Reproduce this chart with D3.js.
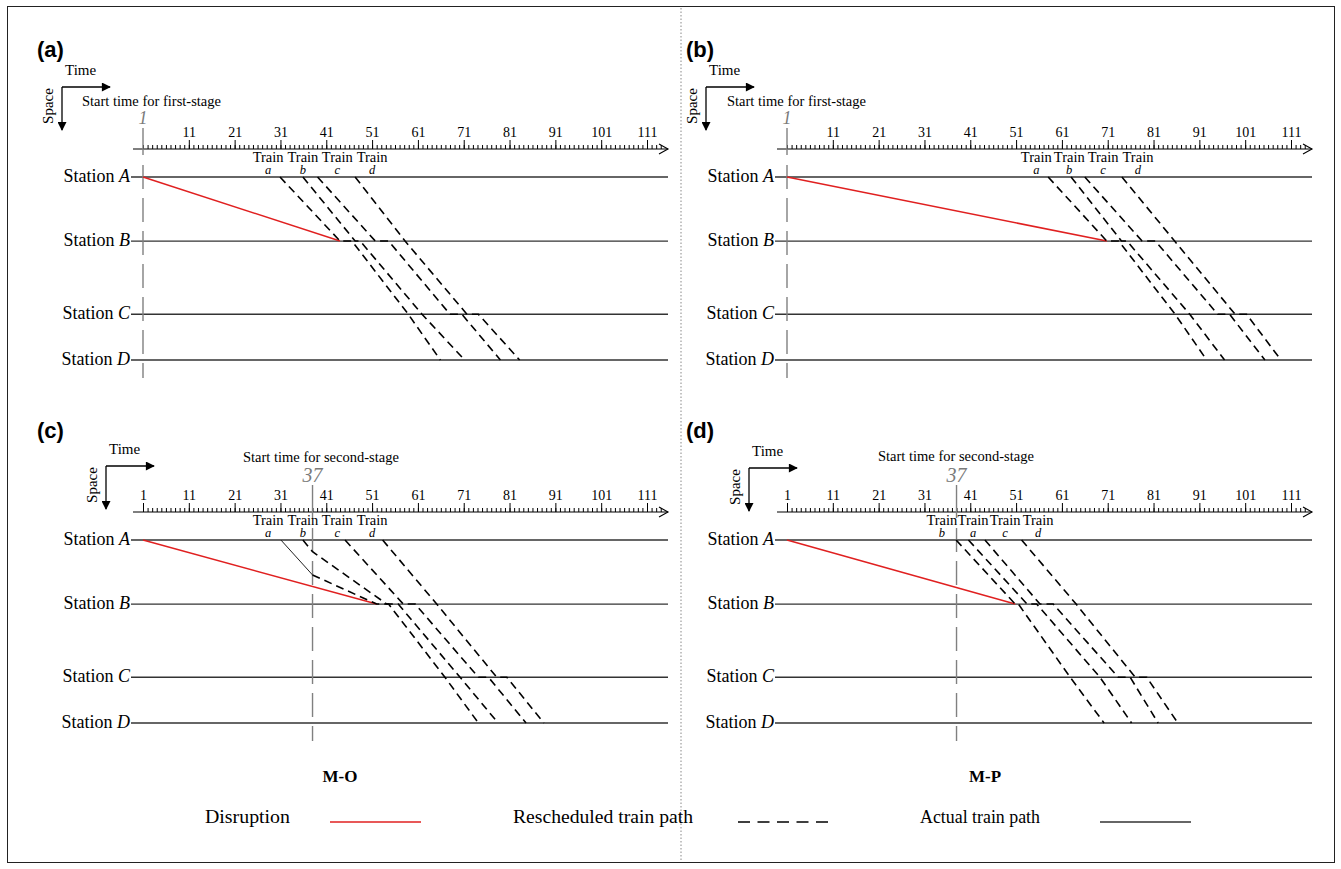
<!DOCTYPE html>
<html>
<head>
<meta charset="utf-8">
<title>Train rescheduling</title>
<script src="https://d3js.org/d3.v7.min.js"></script>
<style>
  * { margin: 0; padding: 0; }
  body { background: #fff; }
  svg { display: block; }
</style>
</head>
<body>
<script>
// ---- data ----
const stationNames = ["A", "B", "C", "D"];
const stationKm = [0, 35, 75, 100];
const majorTicks = [1, 11, 21, 31, 41, 51, 61, 71, 81, 91, 101, 111];
const minorTicks = d3.range(1, 115);

const stageLabels = ["1", "1", "37", "37"];
const stageTimes = [1, 1, 38, 38];          // where the stage line sits on the time axis
const disruptionAtB = [44.0, 70.8, 52.0, 50.8];

const trainOrderTop = ["a", "b", "c", "d"];
const trainOrderD = ["b", "a", "c", "d"];
const labelTimesA = [28.3, 35.9, 43.4, 51.0];
const labelTimesB = [55.4, 62.6, 70.0, 77.6];
const labelTimesC = [28.3, 35.9, 43.4, 51.0];
const labelTimesD = [34.8, 41.6, 48.6, 55.8];

// [time, km] points of each rescheduled path
const reschedA = [
  [[30.9, 0], [44.0, 35], [46.6, 35], [58.9, 75], [65.9, 100]],
  [[35.9, 0], [47.3, 35], [48.4, 35], [61.9, 75], [71.2, 100]],
  [[39.1, 0], [51.7, 35], [54.6, 35], [68.0, 75], [70.6, 75], [79.0, 100]],
  [[47.3, 0], [58.2, 35], [71.7, 75], [74.2, 75], [83.2, 100]]
];
const reschedB = [
  [[58.0, 0], [70.8, 35], [73.4, 35], [85.7, 75], [92.6, 100]],
  [[63.0, 0], [74.0, 35], [75.2, 35], [88.9, 75], [96.5, 100]],
  [[66.0, 0], [78.5, 35], [81.4, 35], [95.0, 75], [97.6, 75], [105.3, 100]],
  [[74.1, 0], [85.6, 35], [98.8, 75], [101.3, 75], [108.8, 100]]
];
const reschedC = [
  [[38.0, 19.1], [52.0, 35], [54.6, 35], [66.9, 75], [74.2, 100]],
  [[35.9, 0], [38.0, 6.4], [54.2, 35], [56.7, 35], [70.2, 75], [78.5, 100]],
  [[45.1, 0], [57.8, 35], [60.4, 35], [74.2, 75], [76.4, 75], [84.6, 100]],
  [[53.3, 0], [65.1, 35], [78.2, 75], [80.4, 75], [88.5, 100]]
];
const reschedD = [
  [[37.9, 0], [50.8, 35], [51.5, 35], [62.8, 75], [70.2, 100]],
  [[40.6, 0], [53.4, 35], [55.5, 35], [69.3, 75], [76.2, 100]],
  [[44.2, 0], [56.2, 35], [59.1, 35], [73.3, 75], [75.9, 75], [82.0, 100]],
  [[52.2, 0], [64.1, 35], [77.0, 75], [79.5, 75], [86.3, 100]]
];
const actualC = [
  [[31.1, 0], [38.0, 19.1]]
];
const actualNone = [];

const legendNames = ["Disruption", "Rescheduled train path", "Actual train path"];

// ---- layout ----
const serif = "'Liberation Serif', 'Times New Roman', serif";
const W = 1341, H = 869;

const panels = [
  { tag: "(a)", tx: 37, ty: 57, ox: 143, ay: 149, glyph: [62, 87], startText: "Start time for first-stage", st: [82, 106],
    sIdx: 0, order: trainOrderTop, labels: labelTimesA, resched: reschedA, actual: actualNone },
  { tag: "(b)", tx: 686, ty: 57, ox: 787, ay: 149, glyph: [706, 87], startText: "Start time for first-stage", st: [727, 106],
    sIdx: 1, order: trainOrderTop, labels: labelTimesB, resched: reschedB, actual: actualNone },
  { tag: "(c)", tx: 37, ty: 438, ox: 143, ay: 512, glyph: [106, 466], startText: "Start time for second-stage", st: [243, 462],
    sIdx: 2, order: trainOrderTop, labels: labelTimesC, resched: reschedC, actual: actualC },
  { tag: "(d)", tx: 686, ty: 438, ox: 787, ay: 512, glyph: [749, 468], startText: "Start time for second-stage", st: [878, 461],
    sIdx: 3, order: trainOrderD, labels: labelTimesD, resched: reschedD, actual: actualNone }
];

const svg = d3.select("body").append("svg")
  .attr("width", W).attr("height", H);

svg.append("rect")
  .attr("x", 7.5).attr("y", 6.5).attr("width", 1327).attr("height", 856)
  .attr("fill", "none").attr("stroke", "#222").attr("stroke-width", 1);

svg.append("line")
  .attr("x1", 681).attr("x2", 681).attr("y1", 8).attr("y2", 861)
  .attr("stroke", "#888").attr("stroke-width", 1).attr("stroke-dasharray", "1.5,2");

const defs = svg.append("defs");
defs.append("marker").attr("id", "tri")
  .attr("viewBox", "0 0 10 10").attr("refX", 9).attr("refY", 5)
  .attr("markerWidth", 13).attr("markerHeight", 9).attr("markerUnits", "userSpaceOnUse")
  .attr("orient", "auto")
  .append("path").attr("d", "M0,0 L10,5 L0,10 Z").attr("fill", "#000");

panels.forEach(drawPanel);

function drawPanel(p) {
  const g = svg.append("g");
  const x = d3.scaleLinear().domain([1, 111]).range([p.ox, p.ox + 504]);
  const y = d3.scaleLinear().domain([0, 100]).range([p.ay + 28, p.ay + 211]);
  const firstStage = stageLabels[p.sIdx] === "1";
  const sx = x(stageTimes[p.sIdx]);
  const xEnd = p.ox + 525;

  // panel tag
  g.append("text").attr("x", p.tx).attr("y", p.ty)
    .attr("font-family", "'Liberation Sans', Arial, sans-serif")
    .attr("font-weight", "bold").attr("font-size", 22).text(p.tag);

  // time / space glyph
  const [cx, cy] = p.glyph;
  g.append("line").attr("x1", cx).attr("y1", cy).attr("x2", cx + 48).attr("y2", cy)
    .attr("stroke", "#000").attr("stroke-width", 1.3).attr("marker-end", "url(#tri)");
  g.append("line").attr("x1", cx).attr("y1", cy).attr("x2", cx).attr("y2", cy + 43)
    .attr("stroke", "#000").attr("stroke-width", 1.3).attr("marker-end", "url(#tri)");
  g.append("text").attr("x", cx + 3).attr("y", cy - 12)
    .attr("font-family", serif).attr("font-size", 15).text("Time");
  g.append("text").attr("transform", `translate(${cx - 9},${cy + 19}) rotate(-90)`)
    .attr("text-anchor", "middle")
    .attr("font-family", serif).attr("font-size", 15).text("Space");

  g.append("text").attr("x", p.st[0]).attr("y", p.st[1])
    .attr("font-family", serif).attr("font-size", 14.5).text(p.startText);

  // time axis
  g.append("line").attr("x1", p.ox - 10).attr("x2", xEnd).attr("y1", p.ay).attr("y2", p.ay)
    .attr("stroke", "#000").attr("stroke-width", 1.2);
  g.append("path")
    .attr("d", `M${xEnd - 9},${p.ay - 5} L${xEnd},${p.ay} L${xEnd - 9},${p.ay + 5}`)
    .attr("fill", "none").attr("stroke", "#000").attr("stroke-width", 1.1);

  g.append("g").attr("transform", `translate(0,${p.ay})`)
    .call(d3.axisTop(x).tickValues(minorTicks).tickSize(4).tickFormat(""))
    .call(a => a.select(".domain").remove())
    .call(a => a.selectAll("line").attr("stroke", "#000").attr("stroke-width", 1));

  const majors = firstStage ? majorTicks.filter(d => d !== 1) : majorTicks;
  g.append("g").attr("transform", `translate(0,${p.ay})`)
    .call(d3.axisTop(x).tickValues(majors).tickSize(9).tickPadding(3))
    .call(a => a.select(".domain").remove())
    .call(a => a.selectAll("line").attr("stroke", "#000").attr("stroke-width", 1))
    .call(a => a.selectAll("text").attr("font-family", serif).attr("font-size", 14).attr("fill", "#000"));

  // stations
  stationNames.forEach((s, k) => {
    const yy = y(stationKm[k]);
    g.append("line").attr("x1", p.ox - 12).attr("x2", xEnd).attr("y1", yy).attr("y2", yy)
      .attr("stroke", "#333").attr("stroke-width", 1.3);
    const t = g.append("text").attr("x", p.ox - 13).attr("y", yy + 5)
      .attr("text-anchor", "end").attr("font-family", serif).attr("font-size", 18);
    t.append("tspan").text("Station ");
    t.append("tspan").attr("font-style", "italic").text(s);
  });

  // stage line
  const yBottom = y(100);
  g.append("line").attr("x1", sx).attr("x2", sx)
    .attr("y1", p.ay - (firstStage ? 21 : 27)).attr("y2", p.ay + 6)
    .attr("stroke", "#808080").attr("stroke-width", 1.4);
  g.append("line").attr("x1", sx).attr("x2", sx)
    .attr("y1", p.ay + 16).attr("y2", yBottom + 18)
    .attr("stroke", "#808080").attr("stroke-width", 1.4).attr("stroke-dasharray", "24,9");
  g.append("text").attr("x", sx).attr("y", p.ay - (firstStage ? 25 : 30))
    .attr("text-anchor", "middle").attr("font-family", serif)
    .attr("font-style", "italic").attr("font-size", firstStage ? 18 : 20)
    .attr("fill", "#7a7a7a").text(stageLabels[p.sIdx]);

  // train labels
  p.order.forEach((name, k) => {
    const lx = x(p.labels[k]);
    g.append("text").attr("x", lx).attr("y", p.ay + 13)
      .attr("text-anchor", "middle").attr("font-family", serif).attr("font-size", 14.5).text("Train");
    g.append("text").attr("x", lx).attr("y", p.ay + 25)
      .attr("text-anchor", "middle").attr("font-family", serif).attr("font-style", "italic")
      .attr("font-size", 12.5).text(name);
  });

  const line = d3.line().x(d => x(d[0])).y(d => y(d[1]));

  // disruption
  g.append("path").datum([[1, 0], [disruptionAtB[p.sIdx], 35]])
    .attr("d", line).attr("fill", "none").attr("stroke", "#e02020").attr("stroke-width", 1.5);

  // actual paths
  g.selectAll(".actual").data(p.actual).enter().append("path")
    .attr("d", line).attr("fill", "none").attr("stroke", "#222").attr("stroke-width", 1);

  // rescheduled paths
  g.selectAll(".resched").data(p.resched).enter().append("path")
    .attr("d", line).attr("fill", "none").attr("stroke", "#000")
    .attr("stroke-width", 1.6).attr("stroke-dasharray", "8,5");
}

// method names
svg.append("text").attr("x", 340).attr("y", 782).attr("text-anchor", "middle")
  .attr("font-family", serif).attr("font-weight", "bold").attr("font-size", 17).text("M-O");
svg.append("text").attr("x", 985).attr("y", 782).attr("text-anchor", "middle")
  .attr("font-family", serif).attr("font-weight", "bold").attr("font-size", 17).text("M-P");

// legend
const legendX = [205, 513, 920];
const legendW = [85, 180, 120];
const legendLineX = [330, 738, 1100];
const legY = 823;
legendNames.forEach((n, k) => {
  svg.append("text").attr("x", legendX[k]).attr("y", legY)
    .attr("font-family", serif).attr("font-size", 18)
    .attr("textLength", legendW[k]).attr("lengthAdjust", "spacingAndGlyphs").text(n);
  const l = svg.append("line").attr("x1", legendLineX[k]).attr("x2", legendLineX[k] + 91)
    .attr("y1", legY - 1).attr("y2", legY - 1).attr("stroke-width", 1.6);
  if (k === 0) l.attr("stroke", "#e02020");
  if (k === 1) l.attr("stroke", "#000").attr("stroke-dasharray", "12,7.5");
  if (k === 2) l.attr("stroke", "#333");
});
</script>
</body>
</html>
